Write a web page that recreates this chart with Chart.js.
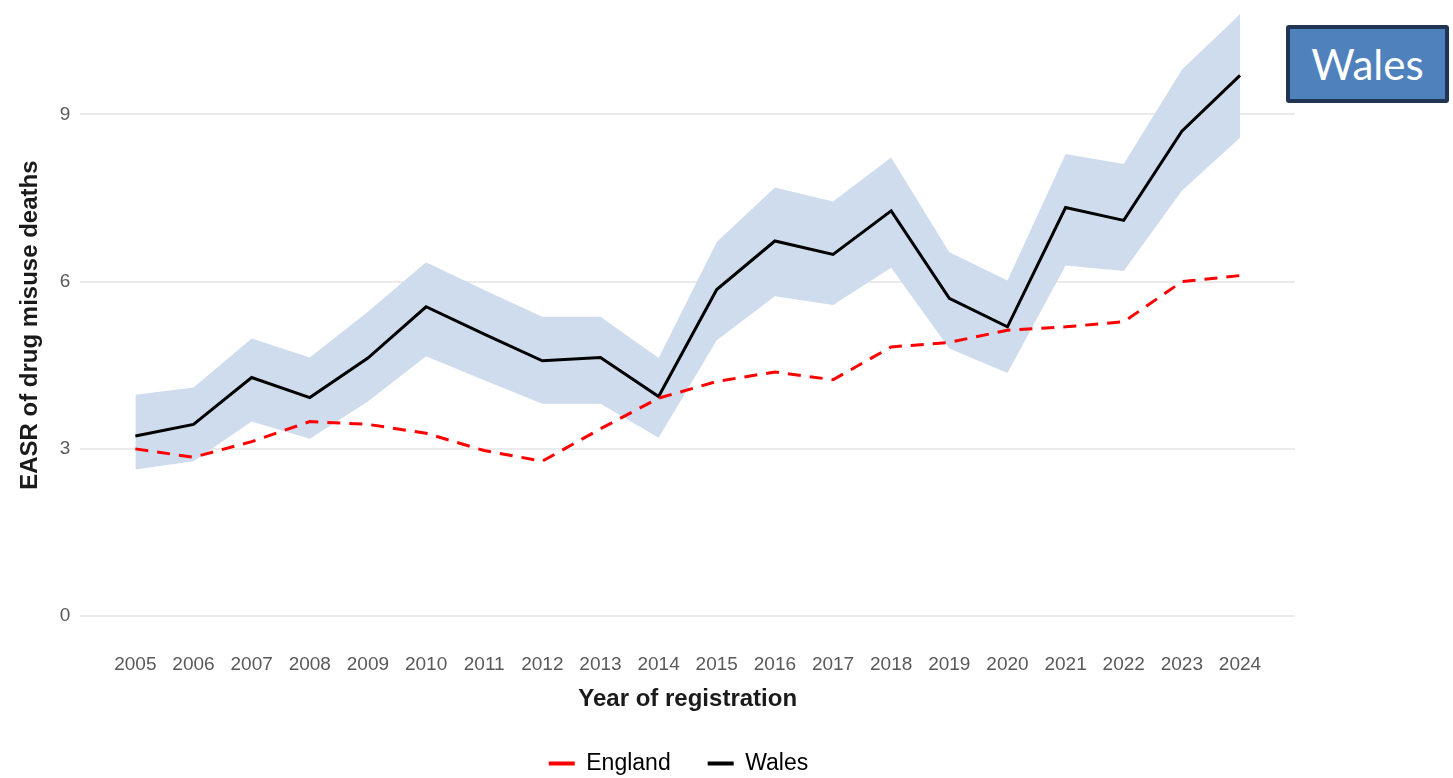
<!DOCTYPE html>
<html>
<head>
<meta charset="utf-8">
<script src="https://cdn.jsdelivr.net/npm/chart.js@4"></script>
<style>
  html, body { margin: 0; padding: 0; background: #fff; }
  #wrap { position: relative; width: 1453px; height: 778px; }
  #badge {
    position: absolute; left: 1286px; top: 25px; width: 155px; height: 70px;
    background: #4f81bd; border: 4px solid #1f3552; border-radius: 3px;
    color: #fff; font-family: Lato, 'Open Sans', sans-serif; font-size: 42px;
    display: flex; align-items: center; justify-content: center;
  }
</style>
</head>
<body>
<div id="wrap">
  <canvas id="easrChart" width="1453" height="778"></canvas>
  <div id="badge">Wales</div>
</div>
<script>
// Data
// **************************************
const years = [2005, 2006, 2007, 2008, 2009, 2010, 2011, 2012, 2013, 2014,
  2015, 2016, 2017, 2018, 2019, 2020, 2021, 2022, 2023, 2024];
const wales = [3.23, 3.44, 4.28, 3.92, 4.63, 5.55, 5.06, 4.58, 4.64, 3.94,
  5.86, 6.73, 6.49, 7.27, 5.70, 5.19, 7.33, 7.10, 8.70, 9.70];
const walesUpper = [3.97, 4.10, 4.98, 4.64, 5.46, 6.35, 5.85, 5.37, 5.37, 4.63,
  6.71, 7.69, 7.44, 8.23, 6.53, 6.02, 8.29, 8.11, 9.80, 10.80];
const walesLower = [2.63, 2.78, 3.49, 3.18, 3.85, 4.66, 4.23, 3.81, 3.81, 3.20,
  4.95, 5.74, 5.58, 6.25, 4.80, 4.36, 6.29, 6.19, 7.63, 8.58];
const england = [3.00, 2.85, 3.13, 3.49, 3.44, 3.28, 2.97, 2.78, 3.36, 3.91,
  4.21, 4.38, 4.24, 4.83, 4.91, 5.13, 5.19, 5.28, 6.00, 6.11];
const yTicks = [0, 3, 6, 9];

const toPoints = (arr) => arr.map((v, i) => ({ x: years[i], y: v }));

const FONT = "'Liberation Sans', Arial, sans-serif";
const bandColor = '#cedcee';

const data = {
  datasets: [
    {
      label: 'England',
      data: toPoints(england),
      borderColor: '#ff0000',
      backgroundColor: '#ff0000',
      borderWidth: 3,
      borderDash: [13, 9],
      pointRadius: 0,
      fill: false,
    },
    {
      label: 'Wales',
      data: toPoints(wales),
      borderColor: '#000000',
      backgroundColor: '#000000',
      borderWidth: 3,
      pointRadius: 0,
      fill: false,
    },
    {
      label: 'upper',
      data: toPoints(walesUpper),
      borderWidth: 0,
      borderColor: bandColor,
      backgroundColor: bandColor,
      pointRadius: 0,
      fill: '+1',
    },
    {
      label: 'lower',
      data: toPoints(walesLower),
      borderWidth: 0,
      borderColor: bandColor,
      backgroundColor: bandColor,
      pointRadius: 0,
      fill: false,
    },
  ],
};

// nudge the legend so it sits under the middle of the whole figure
const legendShift = {
  id: 'legendShift',
  afterLayout(chart) {
    chart.legend.left += 25;
    chart.legend.right += 25;
  },
};

// Config
// ********************
const config = {
  type: 'line',
  data: data,
  options: {
    responsive: false,
    animation: false,
    layout: {
      padding: { left: 12, right: 158, top: 2, bottom: -7 },
    },
    plugins: {
      tooltip: { enabled: false },
      legend: {
        position: 'bottom',
        labels: {
          font: { family: FONT, size: 23 },
          color: '#333333',
          boxWidth: 26,
          boxHeight: 4,
          padding: 37,
          filter: (item) => item.text === 'England' || item.text === 'Wales',
          generateLabels: (chart) =>
            chart.data.datasets.map((ds, i) => ({
              text: ds.label,
              fillStyle: ds.borderColor,
              strokeStyle: ds.borderColor,
              lineWidth: 0,
              lineDash: [],
              hidden: false,
              datasetIndex: i,
            })),
        },
      },
    },
    scales: {
      x: {
        type: 'linear',
        min: 2004.054,
        max: 2024.946,
        afterBuildTicks: (axis) => {
          axis.ticks = years.map((v) => ({ value: v }));
        },
        grid: { display: false },
        border: { display: false },
        ticks: {
          autoSkip: false,
          maxRotation: 0,
          padding: 7,
          color: '#595959',
          font: { family: FONT, size: 19 },
          callback: (value) => String(value),
        },
        title: {
          display: true,
          text: 'Year of registration',
          color: '#1a1a1a',
          font: { family: FONT, size: 24, weight: 'bold' },
          padding: { top: 2, bottom: 1 },
        },
      },
      y: {
        min: -0.4,
        max: 10.84,
        afterBuildTicks: (axis) => {
          axis.ticks = yTicks.map((v) => ({ value: v }));
        },
        grid: { color: '#ebebeb', lineWidth: 2, drawTicks: false },
        border: { display: false },
        ticks: {
          padding: 10,
          color: '#595959',
          font: { family: FONT, size: 19, lineHeight: 0.2 },
        },
        title: {
          display: true,
          text: 'EASR of drug misuse deaths',
          color: '#1a1a1a',
          font: { family: FONT, size: 24, weight: 'bold' },
          padding: { top: 4, bottom: 5 },
        },
      },
    },
  },
  plugins: [legendShift],
};

// Render
new Chart(document.getElementById('easrChart'), config);
</script>
</body>
</html>
